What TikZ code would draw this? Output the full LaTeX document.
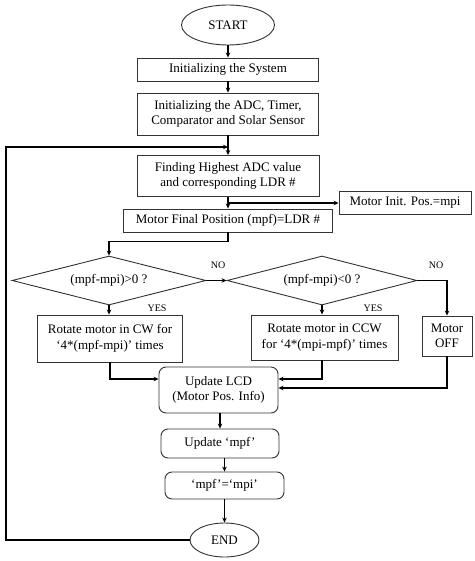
\documentclass[tikz,border=0pt]{standalone}
\usepackage{fontspec}
\setmainfont{Liberation Serif}
\usetikzlibrary{shapes.geometric,arrows.meta}

\begin{document}
\begin{tikzpicture}[x=1pt,y=-1pt,
		font=\fontsize{13}{15.5}\selectfont,
		block/.style={draw=black!80,line width=0.9pt,inner sep=2pt,align=center},
		soft/.style={block,rounded corners=7pt},
		term/.style={block,ellipse},
		test/.style={block,diamond,aspect=4,inner sep=0pt},
		arr/.style={line width=1.3pt,-{Stealth[length=5pt,width=4.5pt]}},
		lbl/.style={font=\fontsize{10}{12}\selectfont}]
		\useasboundingbox (0,0) rectangle (474,561);
		% main column
		\node[term,minimum width=93pt,minimum height=40pt] (start) at (228,25) {START};
		\node[block,minimum width=181pt,minimum height=23pt] (sys) at (228,69.5) {Initializing the System};
		\node[block,minimum width=181pt,minimum height=42pt] (adc) at (228,114) {Initializing the ADC, Timer,\\Comparator and Solar Sensor};
		\node[block,minimum width=182pt,minimum height=41pt] (find) at (228,176) {Finding Highest ADC value\\and corresponding LDR \#};
		\node[block,minimum width=132pt,minimum height=23pt] (init) at (405,203) {Motor Init. Pos.=mpi};
		\node[block,minimum width=209pt,minimum height=23pt] (final) at (228,220.5) {Motor Final Position (mpf)=LDR \#};
		% decisions
		\node[test,minimum width=194pt,minimum height=49pt] (pos) at (109,280.5) {(mpf-mpi)>0 ?};
		\node[test,minimum width=190pt,minimum height=49pt] (neg) at (322,280.5) {(mpf-mpi)<0 ?};
		\node[block,minimum width=145pt,minimum height=47pt] (cw) at (110,338.5) {Rotate motor in CW for\\‘4*(mpf-mpi)’ times};
		\node[block,minimum width=147pt,minimum height=45pt] (ccw) at (324.5,337.5) {Rotate motor in CCW\\for ‘4*(mpi-mpf)’ times};
		\node[block,minimum width=50pt,minimum height=40pt] (off) at (447,336) {Motor\\OFF};
		% update and end
		\node[soft,minimum width=119pt,minimum height=46pt] (lcd) at (218.5,390) {Update LCD\\(Motor Pos. Info)};
		\node[soft,minimum width=118pt,minimum height=29pt] (upd) at (220,443.5) {Update ‘mpf’};
		\node[soft,minimum width=119pt,minimum height=27pt] (swap) at (224.5,485.5) {‘mpf’=‘mpi’};
		\node[term,minimum width=69pt,minimum height=34pt] (end) at (224.5,540) {END};
		\node[lbl] (no1) at (218,265) {NO};
		\node[lbl] (no2) at (436,265) {NO};
		\node[lbl] (yes1) at (157,308) {YES};
		\node[lbl] (yes2) at (373,308) {YES};
		\coordinate (join) at (228,147);
		\coordinate (fork) at (228,203);
		\coordinate (back) at (6,540);
		% connectors
		\draw[arr] (start) -- (sys);
		\draw[arr] (sys) -- (adc);
		\draw[arr] (adc) -- (find);
		\draw[arr] (end.west) -- (back) |- (join);
		\draw[arr] (find) -- (final);
		\draw[arr] (fork) -- (init);
		\draw[arr] (final.south) -- ++(0,9) -| (pos.north);
		\draw[arr] (pos.east) -- (neg.west);
		\draw[arr] (neg.east) -| (off.north);
		\draw[arr] (pos.south) -- (pos.south |- cw.north);
		\draw[arr] (neg.south) -- (neg.south |- ccw.north);
		\draw[arr] (cw.south) |- ([yshift=11pt]lcd.west);
		\draw[arr] (neg.south |- ccw.south) |- ([yshift=11pt]lcd.east);
		\draw[arr] (off.south) |- ([yshift=2pt]lcd.east);
		\draw[arr] (upd.north |- lcd.south) -- (upd.north);
		\draw[arr] (swap.north |- upd.south) -- (swap.north);
		\draw[arr] (swap) -- (end);
\end{tikzpicture}
\end{document}
